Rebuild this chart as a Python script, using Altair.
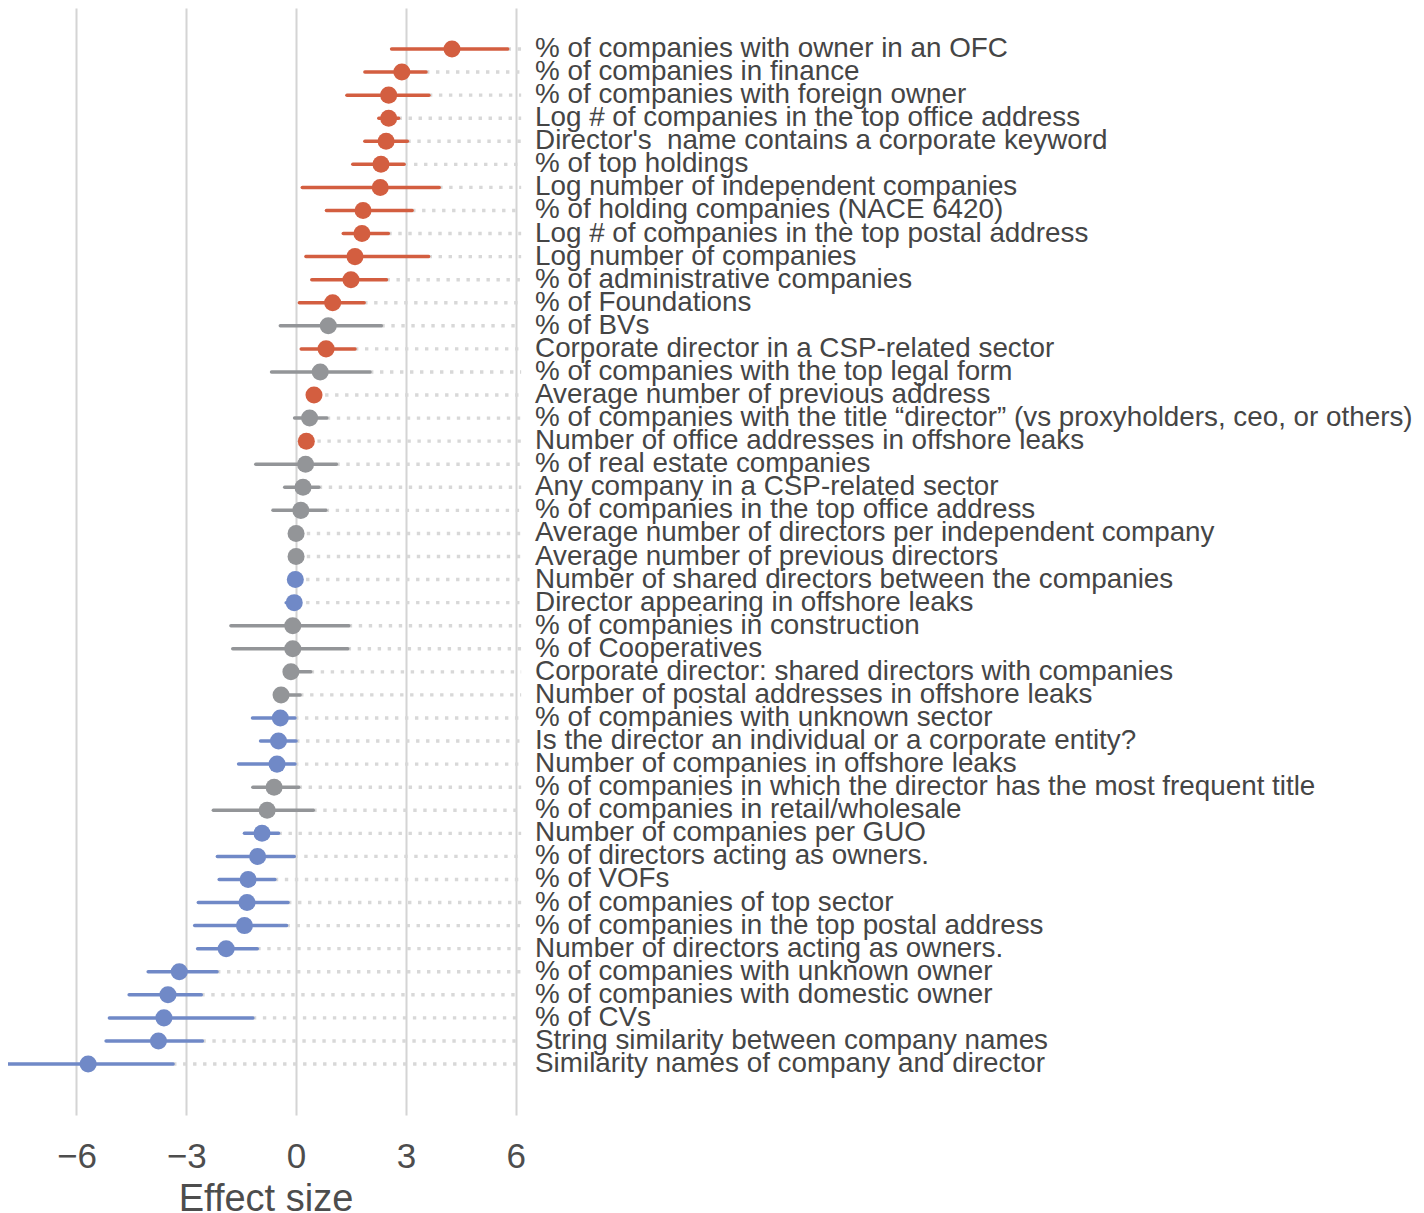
import altair as alt
import pandas as pd

labels = [
    "% of companies with owner in an OFC",
    "% of companies in finance",
    "% of companies with foreign owner",
    "Log # of companies in the top office address",
    "Director's\u00a0 name contains a corporate keyword",
    "% of top holdings",
    "Log number of independent companies",
    "% of holding companies (NACE 6420)",
    "Log # of companies in the top postal address",
    "Log number of companies",
    "% of administrative companies",
    "% of Foundations",
    "% of BVs",
    "Corporate director in a CSP-related sector",
    "% of companies with the top legal form",
    "Average number of previous address",
    "% of companies with the title \u201cdirector\u201d (vs proxyholders, ceo, or others)",
    "Number of office addresses in offshore leaks",
    "% of real estate companies",
    "Any company in a CSP-related sector",
    "% of companies in the top office address",
    "Average number of directors per independent company",
    "Average number of previous directors",
    "Number of shared directors between the companies",
    "Director appearing in offshore leaks",
    "% of companies in construction",
    "% of Cooperatives",
    "Corporate director: shared directors with companies",
    "Number of postal addresses in offshore leaks",
    "% of companies with unknown sector",
    "Is the director an individual or a corporate entity?",
    "Number of companies in offshore leaks",
    "% of companies in which the director has the most frequent title",
    "% of companies in retail/wholesale",
    "\u00a0Number of companies per GUO",
    "% of directors acting as owners.",
    "% of VOFs",
    "% of companies of top sector",
    "% of companies in the top postal address",
    "Number of directors acting as owners.",
    "% of companies with unknown owner",
    "% of companies with domestic owner",
    "% of CVs",
    "String similarity between company names",
    "Similarity names of company and director",
]

estimate = [4.26, 2.89, 2.53, 2.53, 2.46, 2.32, 2.30, 1.83, 1.80, 1.61, 1.50, 1.00,
            0.88, 0.82, 0.66, 0.49, 0.37, 0.28, 0.26, 0.19, 0.13, 0.00, 0.00, -0.02,
            -0.05, -0.09, -0.09, -0.14, -0.41, -0.43, -0.48, -0.52, -0.60, -0.79, -0.93,
            -1.05, -1.31, -1.34, -1.41, -1.91, -3.19, -3.50, -3.61, -3.76, -5.68]

ci_low = [2.61, 1.88, 1.39, 2.26, 1.88, 1.55, 0.17, 0.83, 1.29, 0.27, 0.43, 0.09,
          -0.43, 0.14, -0.67, 0.46, -0.04, 0.25, -1.10, -0.31, -0.63, -0.02, -0.02, -0.04,
          -0.27, -1.78, -1.73, -0.20, -0.45, -1.19, -0.97, -1.57, -1.18, -2.26, -1.41,
          -2.15, -2.10, -2.67, -2.77, -2.69, -4.04, -4.56, -5.10, -5.19, -8.08]

ci_high = [5.78, 3.55, 3.63, 2.80, 3.04, 2.95, 3.91, 3.17, 2.52, 3.62, 2.47, 1.86,
           2.33, 1.61, 2.02, 0.52, 0.84, 0.31, 1.10, 0.62, 0.81, 0.02, 0.02, 0.00,
           0.00, 1.44, 1.41, 0.40, 0.11, -0.03, 0.00, -0.03, 0.07, 0.47, -0.48,
           -0.05, -0.58, -0.22, -0.26, -1.06, -2.16, -2.59, -1.18, -2.56, -3.36]

group = ["pos"] * 12 + ["ns", "pos", "ns", "pos", "ns", "pos", "ns", "ns", "ns", "ns", "ns",
         "neg", "neg", "ns", "ns", "ns", "ns", "neg", "neg", "neg", "ns", "ns", "neg",
         "neg", "neg", "neg", "neg", "neg", "neg", "neg", "neg", "neg", "neg"]

group_domain = ["pos", "ns", "neg"]
group_colors = ["#D35E40", "#939598", "#7089C7"]

df = pd.DataFrame({
    "label": labels,
    "est": estimate,
    "lo": ci_low,
    "hi": ci_high,
    "group": group,
    "row": list(range(1, len(labels) + 1)),
})

xscale = alt.Scale(domain=[-7.87, 6.2], nice=False, zero=False)
yscale = alt.Scale(domain=[-0.777, 47.21], reverse=True, nice=False, zero=False)
cscale = alt.Scale(domain=group_domain, range=group_colors)

base = alt.Chart(df)

xaxis = alt.Axis(values=[-6, -3, 0, 3, 6], title="Effect size", grid=True,
                 gridColor="#d4d4d4", gridWidth=2, domain=False, ticks=False,
                 labelFontSize=35, labelColor="#4d4d4d", labelPadding=24,
                 labelFont="Liberation Sans",
                 titleFontSize=38, titleFontWeight="normal", titleColor="#4d4d4d",
                 titleFont="Liberation Sans", titlePadding=6)

dots = base.mark_rule(strokeDash=[3.4, 6.6], strokeWidth=3.4, color="#d8d8d8").encode(
    x=alt.X("hi:Q", scale=xscale, axis=xaxis),
    x2=alt.datum(6.15),
    y=alt.Y("row:Q", scale=yscale, axis=None),
)

bars = base.mark_rule(strokeWidth=3.5, strokeCap="round").encode(
    x=alt.X("lo:Q", scale=xscale),
    x2="hi:Q",
    y=alt.Y("row:Q", scale=yscale),
    color=alt.Color("group:N", scale=cscale, legend=None),
)

points = base.mark_circle(size=290, opacity=1).encode(
    x=alt.X("est:Q", scale=xscale),
    y=alt.Y("row:Q", scale=yscale),
    color=alt.Color("group:N", scale=cscale, legend=None),
)

texts = base.mark_text(align="left", baseline="middle", fontSize=27.8,
                       font="Liberation Sans", color="#454545", dy=0).encode(
    x=alt.datum(6.53),
    y=alt.Y("row:Q", scale=yscale),
    text="label:N",
)

chart = alt.layer(dots, bars, points, texts).properties(
    width=515,
    height=1107,
    autosize=alt.AutoSizeParams(type="none"),
    padding={"left": 0, "top": 0, "right": 893, "bottom": 98},
).configure_view(stroke=None)

chart.save("out.html", embed_options={"renderer": "svg", "actions": False})
